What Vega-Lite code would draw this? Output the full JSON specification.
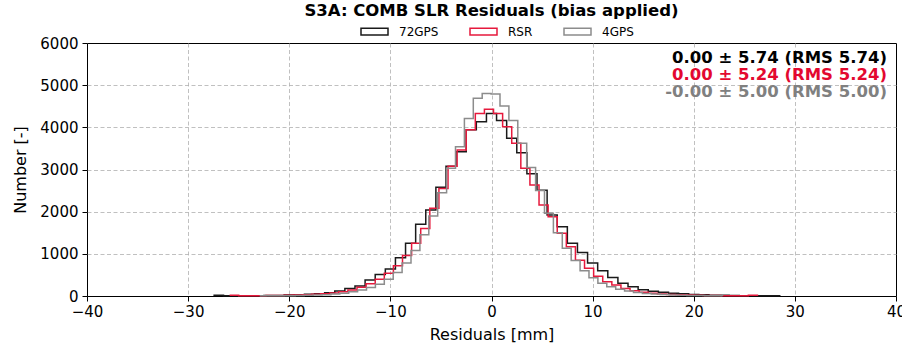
{
"$schema": "https://vega.github.io/schema/vega-lite/v6.json",
"width": 809, "height": 253,
"autosize": {"type": "none"},
"padding": {"left": 87, "top": 43, "right": 6, "bottom": 50},
"background": "white",
"config": {
 "font": "DejaVu Sans",
 "view": {"stroke": "black", "strokeWidth": 1},
 "axis": {"grid": true, "gridDash": [4, 2.5], "gridColor": "#b0b0b0", "gridWidth": 0.8, "domain": false, "tickColor": "black", "tickSize": 5, "tickWidth": 1, "labelFontSize": 15, "labelColor": "black", "titleFontSize": 16, "titleFontWeight": "normal", "titleColor": "black", "labelFont": "DejaVu Sans", "titleFont": "DejaVu Sans", "labelFlush": false}
},
"title": {"text": "S3A: COMB SLR Residuals (bias applied)", "fontSize": 16.5, "fontWeight": "bold", "font": "DejaVu Sans", "anchor": "middle", "offset": -2, "color": "black"},
"datasets": {"hist": [
{"s":"72GPS","x":-27.5,"n":20},{"s":"72GPS","x":-26.5,"n":3},{"s":"72GPS","x":-25.5,"n":4},{"s":"72GPS","x":-24.5,"n":6},{"s":"72GPS","x":-23.5,"n":8},{"s":"72GPS","x":-22.5,"n":10},{"s":"72GPS","x":-21.5,"n":14},{"s":"72GPS","x":-20.5,"n":22},{"s":"72GPS","x":-19.5,"n":30},{"s":"72GPS","x":-18.5,"n":40},{"s":"72GPS","x":-17.5,"n":52},{"s":"72GPS","x":-16.5,"n":75},{"s":"72GPS","x":-15.5,"n":118},{"s":"72GPS","x":-14.5,"n":180},{"s":"72GPS","x":-13.5,"n":240},{"s":"72GPS","x":-12.5,"n":380},{"s":"72GPS","x":-11.5,"n":510},{"s":"72GPS","x":-10.5,"n":640},{"s":"72GPS","x":-9.5,"n":910},{"s":"72GPS","x":-8.5,"n":1250},{"s":"72GPS","x":-7.5,"n":1700},{"s":"72GPS","x":-6.5,"n":2040},{"s":"72GPS","x":-5.5,"n":2580},{"s":"72GPS","x":-4.5,"n":3080},{"s":"72GPS","x":-3.5,"n":3420},{"s":"72GPS","x":-2.5,"n":3940},{"s":"72GPS","x":-1.5,"n":4130},{"s":"72GPS","x":-0.5,"n":4330},{"s":"72GPS","x":0.5,"n":4160},{"s":"72GPS","x":1.5,"n":3740},{"s":"72GPS","x":2.5,"n":3400},{"s":"72GPS","x":3.5,"n":2900},{"s":"72GPS","x":4.5,"n":2510},{"s":"72GPS","x":5.5,"n":1920},{"s":"72GPS","x":6.5,"n":1640},{"s":"72GPS","x":7.5,"n":1250},{"s":"72GPS","x":8.5,"n":1030},{"s":"72GPS","x":9.5,"n":780},{"s":"72GPS","x":10.5,"n":600},{"s":"72GPS","x":11.5,"n":440},{"s":"72GPS","x":12.5,"n":300},{"s":"72GPS","x":13.5,"n":220},{"s":"72GPS","x":14.5,"n":150},{"s":"72GPS","x":15.5,"n":110},{"s":"72GPS","x":16.5,"n":88},{"s":"72GPS","x":17.5,"n":68},{"s":"72GPS","x":18.5,"n":52},{"s":"72GPS","x":19.5,"n":38},{"s":"72GPS","x":20.5,"n":27},{"s":"72GPS","x":21.5,"n":20},{"s":"72GPS","x":22.5,"n":15},{"s":"72GPS","x":23.5,"n":11},{"s":"72GPS","x":24.5,"n":8},{"s":"72GPS","x":25.5,"n":6},{"s":"72GPS","x":26.5,"n":4},{"s":"72GPS","x":27.5,"n":3},{"s":"72GPS","x":28.5,"n":0},
{"s":"RSR","x":-25.9,"n":20},{"s":"RSR","x":-25.0,"n":3},{"s":"RSR","x":-24.1,"n":5},{"s":"RSR","x":-23.2,"n":7},{"s":"RSR","x":-22.3,"n":10},{"s":"RSR","x":-21.4,"n":13},{"s":"RSR","x":-20.5,"n":17},{"s":"RSR","x":-19.6,"n":23},{"s":"RSR","x":-18.7,"n":30},{"s":"RSR","x":-17.8,"n":40},{"s":"RSR","x":-16.9,"n":52},{"s":"RSR","x":-16.0,"n":72},{"s":"RSR","x":-15.1,"n":100},{"s":"RSR","x":-14.2,"n":145},{"s":"RSR","x":-13.3,"n":205},{"s":"RSR","x":-12.4,"n":290},{"s":"RSR","x":-11.5,"n":400},{"s":"RSR","x":-10.6,"n":540},{"s":"RSR","x":-9.7,"n":720},{"s":"RSR","x":-8.8,"n":960},{"s":"RSR","x":-7.9,"n":1250},{"s":"RSR","x":-7.0,"n":1600},{"s":"RSR","x":-6.1,"n":2080},{"s":"RSR","x":-5.2,"n":2550},{"s":"RSR","x":-4.3,"n":3080},{"s":"RSR","x":-3.4,"n":3460},{"s":"RSR","x":-2.5,"n":3940},{"s":"RSR","x":-1.6,"n":4330},{"s":"RSR","x":-0.7,"n":4430},{"s":"RSR","x":0.2,"n":4330},{"s":"RSR","x":1.1,"n":4015},{"s":"RSR","x":2.0,"n":3620},{"s":"RSR","x":2.9,"n":3030},{"s":"RSR","x":3.8,"n":2630},{"s":"RSR","x":4.7,"n":2160},{"s":"RSR","x":5.6,"n":1880},{"s":"RSR","x":6.5,"n":1490},{"s":"RSR","x":7.4,"n":1170},{"s":"RSR","x":8.3,"n":850},{"s":"RSR","x":9.2,"n":656},{"s":"RSR","x":10.1,"n":470},{"s":"RSR","x":11.0,"n":340},{"s":"RSR","x":11.9,"n":260},{"s":"RSR","x":12.8,"n":180},{"s":"RSR","x":13.7,"n":125},{"s":"RSR","x":14.6,"n":90},{"s":"RSR","x":15.5,"n":63},{"s":"RSR","x":16.4,"n":45},{"s":"RSR","x":17.3,"n":35},{"s":"RSR","x":18.2,"n":27},{"s":"RSR","x":19.1,"n":21},{"s":"RSR","x":20.0,"n":16},{"s":"RSR","x":20.9,"n":12},{"s":"RSR","x":21.8,"n":9},{"s":"RSR","x":22.7,"n":7},{"s":"RSR","x":23.6,"n":5},{"s":"RSR","x":24.5,"n":4},{"s":"RSR","x":25.4,"n":15},{"s":"RSR","x":26.3,"n":0},
{"s":"4GPS","x":-22.92,"n":3},{"s":"4GPS","x":-22.04,"n":4},{"s":"4GPS","x":-21.16,"n":6},{"s":"4GPS","x":-20.28,"n":8},{"s":"4GPS","x":-19.40,"n":11},{"s":"4GPS","x":-18.52,"n":16},{"s":"4GPS","x":-17.64,"n":23},{"s":"4GPS","x":-16.76,"n":32},{"s":"4GPS","x":-15.88,"n":45},{"s":"4GPS","x":-15.00,"n":65},{"s":"4GPS","x":-14.12,"n":100},{"s":"4GPS","x":-13.24,"n":140},{"s":"4GPS","x":-12.36,"n":200},{"s":"4GPS","x":-11.48,"n":280},{"s":"4GPS","x":-10.60,"n":400},{"s":"4GPS","x":-9.72,"n":560},{"s":"4GPS","x":-8.84,"n":780},{"s":"4GPS","x":-7.96,"n":1080},{"s":"4GPS","x":-7.08,"n":1450},{"s":"4GPS","x":-6.20,"n":1900},{"s":"4GPS","x":-5.32,"n":2450},{"s":"4GPS","x":-4.44,"n":3030},{"s":"4GPS","x":-3.56,"n":3540},{"s":"4GPS","x":-2.68,"n":4210},{"s":"4GPS","x":-1.80,"n":4690},{"s":"4GPS","x":-0.92,"n":4800},{"s":"4GPS","x":-0.04,"n":4790},{"s":"4GPS","x":0.84,"n":4505},{"s":"4GPS","x":1.72,"n":4160},{"s":"4GPS","x":2.60,"n":3620},{"s":"4GPS","x":3.48,"n":3050},{"s":"4GPS","x":4.36,"n":2500},{"s":"4GPS","x":5.24,"n":1960},{"s":"4GPS","x":6.12,"n":1500},{"s":"4GPS","x":7.00,"n":1130},{"s":"4GPS","x":7.88,"n":840},{"s":"4GPS","x":8.76,"n":600},{"s":"4GPS","x":9.64,"n":430},{"s":"4GPS","x":10.52,"n":300},{"s":"4GPS","x":11.40,"n":220},{"s":"4GPS","x":12.28,"n":160},{"s":"4GPS","x":13.16,"n":120},{"s":"4GPS","x":14.04,"n":85},{"s":"4GPS","x":14.92,"n":60},{"s":"4GPS","x":15.80,"n":45},{"s":"4GPS","x":16.68,"n":33},{"s":"4GPS","x":17.56,"n":25},{"s":"4GPS","x":18.44,"n":18},{"s":"4GPS","x":19.32,"n":13},{"s":"4GPS","x":20.20,"n":10},{"s":"4GPS","x":21.08,"n":7},{"s":"4GPS","x":21.96,"n":5},{"s":"4GPS","x":22.84,"n":0}
]},
"layer": [
 {
  "data": {"name": "hist"},
  "mark": {"type": "line", "interpolate": "step-after", "strokeWidth": 1.5},
  "encoding": {
   "x": {"field": "x", "type": "quantitative", "title": "Residuals [mm]",
     "scale": {"domain": [-40, 40], "nice": false, "zero": false},
     "axis": {"values": [-40, -30, -20, -10, 0, 10, 20, 30, 40], "format": "d", "labelExpr": "replace(datum.label, '-', '−')", "labelPadding": 3, "titlePadding": 7,
       "gridOpacity": {"condition": {"test": "datum.value <= -40 || datum.value >= 40", "value": 0}, "value": 1}}},
   "y": {"field": "n", "type": "quantitative", "title": "Number [-]",
     "scale": {"domain": [0, 6000], "nice": false},
     "axis": {"values": [0, 1000, 2000, 3000, 4000, 5000, 6000], "format": "d", "labelPadding": 4, "titlePadding": 11,
       "gridOpacity": {"condition": {"test": "datum.value <= 0 || datum.value >= 6000", "value": 0}, "value": 1}}},
   "color": {"field": "s", "type": "nominal",
     "scale": {"domain": ["72GPS", "RSR", "4GPS"], "range": ["#1a1a1a", "#e6193c", "#8c8c8c"]},
     "legend": {"title": null, "orient": "none", "direction": "horizontal", "legendX": 273, "legendY": -26, "padding": 0,
       "symbolType": "M-1,-0.25L1,-0.25L1,0.25L-1,0.25Z", "symbolSize": 729, "symbolStrokeWidth": 1.5, "symbolFillColor": "transparent",
       "labelFontSize": 12, "labelFont": "DejaVu Sans", "labelColor": "black", "labelOffset": 10, "columnPadding": 28}}
  }
 },
 {
  "data": {"values": [{"label": "0.00 ± 5.74 (RMS 5.74)"}]},
  "mark": {"type": "text", "align": "right", "baseline": "middle", "dx": -9, "dy": 15, "fontSize": 16.5, "fontWeight": "bold", "font": "DejaVu Sans", "color": "black"},
  "encoding": {"x": {"datum": 40}, "y": {"datum": 6000}, "text": {"field": "label"}}
 },
 {
  "data": {"values": [{"label": "0.00 ± 5.24 (RMS 5.24)"}]},
  "mark": {"type": "text", "align": "right", "baseline": "middle", "dx": -9, "dy": 32, "fontSize": 16.5, "fontWeight": "bold", "font": "DejaVu Sans", "color": "#e3082f"},
  "encoding": {"x": {"datum": 40}, "y": {"datum": 6000}, "text": {"field": "label"}}
 },
 {
  "data": {"values": [{"label": "-0.00 ± 5.00 (RMS 5.00)"}]},
  "mark": {"type": "text", "align": "right", "baseline": "middle", "dx": -9, "dy": 49, "fontSize": 16.5, "fontWeight": "bold", "font": "DejaVu Sans", "color": "#808080"},
  "encoding": {"x": {"datum": 40}, "y": {"datum": 6000}, "text": {"field": "label"}}
 }
]
}
